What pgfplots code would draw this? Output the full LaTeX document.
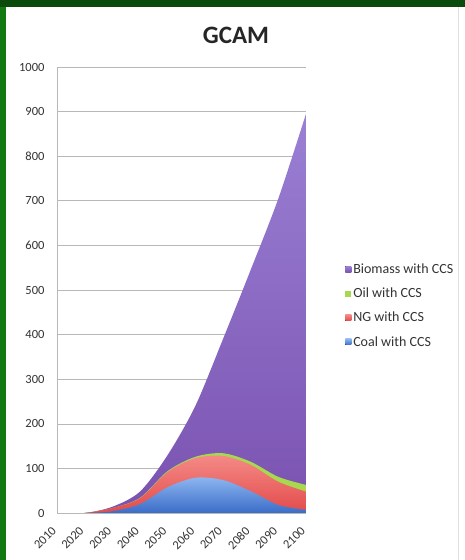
\documentclass[border=0pt]{standalone}
\usepackage{pgfplots}
\pgfplotsset{compat=1.18}
\usepackage{fontspec}
\setmainfont{Carlito}
\definecolor{coalc}{HTML}{5B8FE0}
\definecolor{coaltop}{HTML}{8DB6F0}
\definecolor{coalbot}{HTML}{3A6CC8}
\definecolor{ngtop}{HTML}{F48A86}
\definecolor{ngbot}{HTML}{E24A4A}
\definecolor{oilc}{HTML}{A8D84E}
\definecolor{biotop}{HTML}{9A80D4}
\definecolor{biobot}{HTML}{7A52B0}
\definecolor{frametop}{HTML}{0A4A0A}
\definecolor{frameleft}{HTML}{137A13}
\begin{document}
\begin{tikzpicture}
\path[use as bounding box] (0,0) rectangle (465bp,560bp);
\fill[white] (0,0) rectangle (465bp,560bp);
\fill[frametop] (0,553bp) rectangle (465bp,560bp);
\fill[frameleft] (0,0) rectangle (6bp,553bp);
\draw[black!12] (458bp,0) -- (458bp,553bp);
\node[font=\fontsize{25bp}{27bp}\selectfont\bfseries, text=black!85] at (236bp,525bp) {GCAM};
\begin{axis}[
  at={(57bp,47bp)}, anchor=south west,
  scale only axis, width=249bp, height=446bp,
  xmin=2010, xmax=2100, ymin=0, ymax=1000,
  xtick={2010,2020,...,2100},
  ytick={0,100,...,1000},
  /pgf/number format/1000 sep={},
  /pgf/number format/assume math mode=true,
  tick label style={font=\fontsize{12.5bp}{14bp}\selectfont, text=black!80},
  xticklabel style={xshift=-6bp, yshift=-13bp, rotate=45, anchor=north east, inner sep=0pt},
  yticklabel style={xshift=-9bp},
  axis line style={draw=none},
  axis x line*=bottom, axis y line*=left,
  ymajorgrids, grid style={black!28, line width=0.6pt},
  major tick length=0pt,
  clip=true,
  legend style={at={(1.145,0.465)}, anchor=west, draw=none, fill=none,
    font=\fontsize{14bp}{16bp}\selectfont, text=black!80, row sep=9bp,
    /tikz/every even column/.append style={column sep=2bp}},
  legend cell align=left,
  legend image code/.code={\fill[#1] (0bp,-3bp) rectangle (6bp,3bp);},
]
% cumulative tops (biomass = total)
\addplot[smooth, tension=0.5, draw=none, top color=biotop, bottom color=biobot] coordinates {
(2010,0) (2020,0) (2030,14) (2040,48) (2050,130) (2060,240) (2070,390) (2080,545) (2090,705) (2100,895)} \closedcycle;
\addlegendentry{Biomass with CCS}
\addplot[smooth, tension=0.5, draw=none, fill=oilc] coordinates {
(2010,0) (2020,0) (2030,11) (2040,34) (2050,94) (2060,126) (2070,134) (2080,115) (2090,81) (2100,63)} \closedcycle;
\addlegendentry{Oil with CCS}
\addplot[smooth, tension=0.5, draw=none, top color=ngtop, bottom color=ngbot] coordinates {
(2010,0) (2020,0) (2030,11) (2040,33) (2050,92) (2060,123) (2070,128) (2080,108) (2090,70) (2100,48)} \closedcycle;
\addlegendentry{NG with CCS}
\addplot[smooth, tension=0.5, draw=none, top color=coaltop, bottom color=coalbot] coordinates {
(2010,0) (2020,0) (2030,4) (2040,20) (2050,58) (2060,79) (2070,74) (2080,49) (2090,18) (2100,7)} \closedcycle;
\addlegendentry{Coal with CCS}
\draw[black!28, line width=0.6pt] (axis cs:2010,0) -- (axis cs:2010,1000);
\end{axis}
\end{tikzpicture}
\end{document}
